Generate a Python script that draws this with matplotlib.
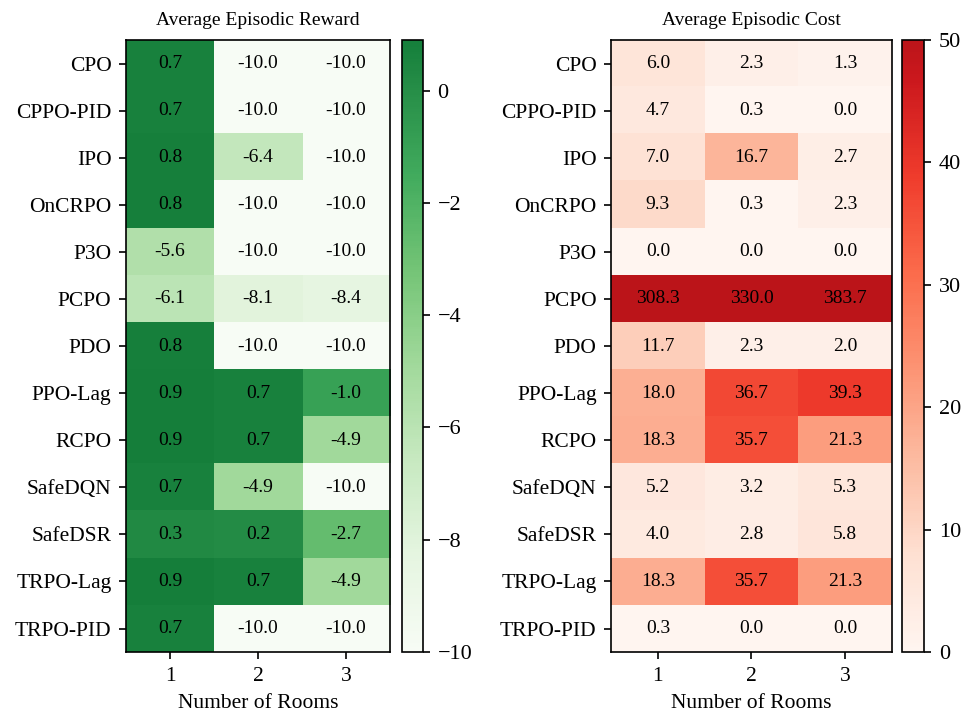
import numpy as np
import matplotlib
matplotlib.use('Agg')
import matplotlib.pyplot as plt
from matplotlib.colors import ListedColormap

plt.rcParams['font.family'] = ['Liberation Serif', 'DejaVu Serif']

algos = ['CPO', 'CPPO-PID', 'IPO', 'OnCRPO', 'P3O', 'PCPO', 'PDO', 'PPO-Lag',
         'RCPO', 'SafeDQN', 'SafeDSR', 'TRPO-Lag', 'TRPO-PID']
rooms = [1, 2, 3]

reward = [
    [0.7, -10.0, -10.0],
    [0.7, -10.0, -10.0],
    [0.8, -6.4, -10.0],
    [0.8, -10.0, -10.0],
    [-5.6, -10.0, -10.0],
    [-6.1, -8.1, -8.4],
    [0.8, -10.0, -10.0],
    [0.9, 0.7, -1.0],
    [0.9, 0.7, -4.9],
    [0.7, -4.9, -10.0],
    [0.3, 0.2, -2.7],
    [0.9, 0.7, -4.9],
    [0.7, -10.0, -10.0],
]

cost = [
    [6.0, 2.3, 1.3],
    [4.7, 0.3, 0.0],
    [7.0, 16.7, 2.7],
    [9.3, 0.3, 2.3],
    [0.0, 0.0, 0.0],
    [308.3, 330.0, 383.7],
    [11.7, 2.3, 2.0],
    [18.0, 36.7, 39.3],
    [18.3, 35.7, 21.3],
    [5.2, 3.2, 5.3],
    [4.0, 2.8, 5.8],
    [18.3, 35.7, 21.3],
    [0.3, 0.0, 0.0],
]

# cut off the darkest end of the sequential maps so the labels stay readable
greens = ListedColormap(plt.get_cmap('Greens')(np.linspace(0, 0.8, 256)))
reds = ListedColormap(plt.get_cmap('Reds')(np.linspace(0, 0.8, 256)))

fig = plt.figure(figsize=(9.64, 7.15), dpi=100)

ax1 = fig.add_axes([0.1307, 0.088, 0.274, 0.856])
cax1 = fig.add_axes([0.417, 0.088, 0.022, 0.856])
ax2 = fig.add_axes([0.634, 0.088, 0.291, 0.856])
cax2 = fig.add_axes([0.936, 0.088, 0.023, 0.856])


def heat(ax, cax, data, cmap, vmin, vmax, title):
    data = np.array(data)
    im = ax.imshow(data, cmap=cmap, vmin=vmin, vmax=vmax, aspect='auto')
    for i in range(data.shape[0]):
        for j in range(data.shape[1]):
            ax.text(j, i, '%.1f' % data[i, j], ha='center', va='center',
                    fontsize=14, color='black')
    ax.set_xticks(range(len(rooms)))
    ax.set_xticklabels(rooms, fontsize=15.5)
    ax.set_yticks(range(len(algos)))
    ax.set_yticklabels(algos, fontsize=15.5)
    ax.tick_params(length=5.25, width=1.2, pad=5.25)
    ax.set_xlabel('Number of Rooms', fontsize=15.5, labelpad=6)
    ax.set_title(title, fontsize=14, pad=11)
    for s in ax.spines.values():
        s.set_linewidth(1.2)
    cb = fig.colorbar(im, cax=cax)
    cb.ax.tick_params(labelsize=16, length=5.25, width=1.2, pad=5)
    cb.outline.set_linewidth(1.2)
    return cb


heat(ax1, cax1, reward, greens, -10, 0.9, 'Average Episodic Reward')
heat(ax2, cax2, cost, reds, 0, 50, 'Average Episodic Cost')

fig.savefig('out.png', dpi=100)
